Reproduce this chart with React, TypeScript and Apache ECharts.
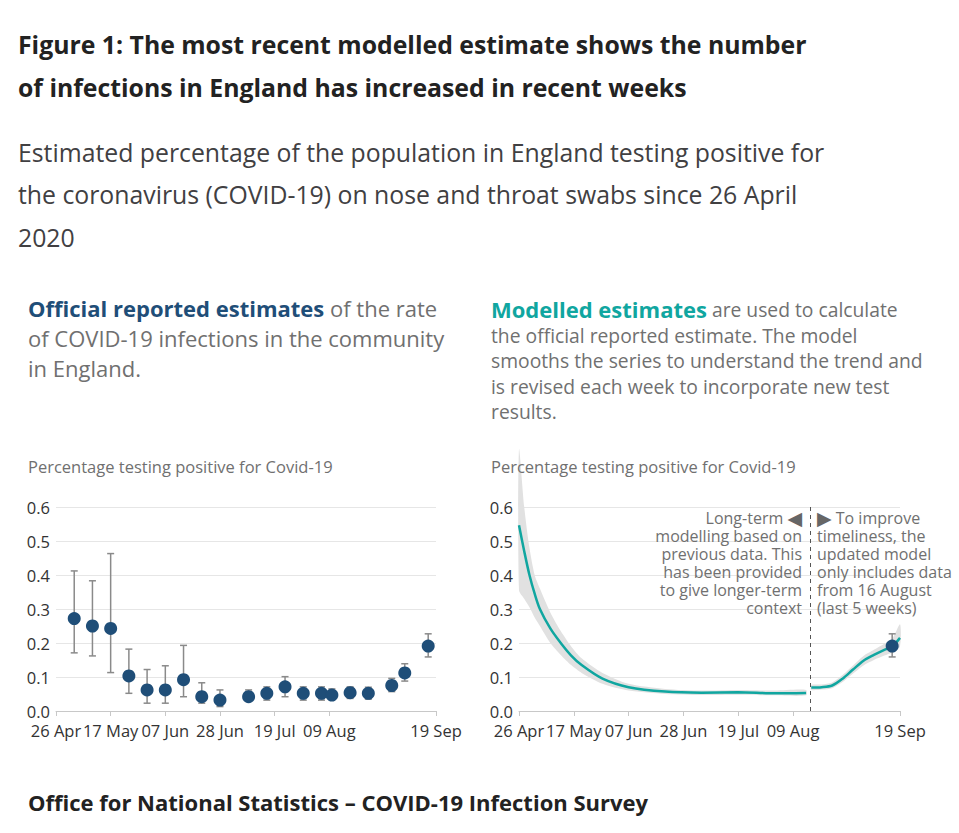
import React, { useEffect, useRef } from "react";
import * as echarts from "echarts";

// ---------- data ----------
const START_DATE = "2020-04-26";

const tickDates = ["2020-04-26", "2020-05-17", "2020-06-07", "2020-06-28", "2020-07-19", "2020-08-09", "2020-09-19"];
const tickLabels = ["26 Apr", "17 May", "07 Jun", "28 Jun", "19 Jul", "09 Aug", "19 Sep"];
const yTicks = [0, 0.1, 0.2, 0.3, 0.4, 0.5, 0.6];

const officialDates = [
  "2020-05-03", "2020-05-10", "2020-05-17", "2020-05-24", "2020-05-31", "2020-06-07", "2020-06-14",
  "2020-06-21", "2020-06-28", "2020-07-09", "2020-07-16", "2020-07-23", "2020-07-30", "2020-08-06",
  "2020-08-10", "2020-08-17", "2020-08-24", "2020-09-02", "2020-09-07", "2020-09-16",
];
const officialValues = [0.272, 0.25, 0.243, 0.103, 0.062, 0.062, 0.092, 0.042, 0.032, 0.042, 0.052, 0.071, 0.052, 0.052, 0.047, 0.054, 0.052, 0.075, 0.112, 0.191];
const officialLower = [0.171, 0.162, 0.113, 0.052, 0.023, 0.023, 0.042, 0.023, 0.013, 0.03, 0.032, 0.042, 0.032, 0.032, 0.035, 0.037, 0.035, 0.057, 0.088, 0.159];
const officialUpper = [0.412, 0.383, 0.463, 0.182, 0.122, 0.133, 0.193, 0.083, 0.062, 0.062, 0.071, 0.101, 0.071, 0.071, 0.065, 0.071, 0.07, 0.096, 0.139, 0.227];

const longTermDates = [
  "2020-04-26", "2020-04-28", "2020-04-30", "2020-05-02", "2020-05-04", "2020-05-08", "2020-05-12",
  "2020-05-16", "2020-05-20", "2020-05-28", "2020-06-07", "2020-06-21", "2020-07-05", "2020-07-19", "2020-08-02", "2020-08-14",
];
const longTermModel = [0.546, 0.47, 0.4, 0.345, 0.3, 0.243, 0.2, 0.163, 0.135, 0.095, 0.07, 0.057, 0.054, 0.055, 0.052, 0.053];
const longTermLower = [0.355, 0.33, 0.305, 0.275, 0.25, 0.2, 0.165, 0.135, 0.112, 0.08, 0.06, 0.05, 0.047, 0.048, 0.046, 0.046];
const longTermUpper = [0.77, 0.6, 0.48, 0.4, 0.36, 0.29, 0.235, 0.19, 0.155, 0.112, 0.08, 0.065, 0.06, 0.062, 0.06, 0.062];

const recentDates = ["2020-08-16", "2020-08-20", "2020-08-24", "2020-08-28", "2020-09-01", "2020-09-05", "2020-09-09", "2020-09-13", "2020-09-16", "2020-09-19"];
const recentModel = [0.069, 0.07, 0.075, 0.095, 0.122, 0.148, 0.165, 0.18, 0.19, 0.215];
const recentLower = [0.062, 0.063, 0.067, 0.085, 0.11, 0.134, 0.15, 0.163, 0.172, 0.19];
const recentUpper = [0.077, 0.078, 0.084, 0.106, 0.134, 0.162, 0.18, 0.198, 0.212, 0.255];

const dividerDate = "2020-08-15";
const dividerOffsetDays = 0.5;

// ---------- helpers ----------
const DAY = 86400000;
const toDay = (s: string) => (Date.parse(s + "T00:00:00Z") - Date.parse(START_DATE + "T00:00:00Z")) / DAY;
const tickDays = tickDates.map(toDay);
const xMax = tickDays[tickDays.length - 1];

const FONT = "'Open Sans', 'Noto Sans', sans-serif";
const DOT = "#1f4e78";
const TEAL = "#10a6a0";
const GREY_TEXT = "#707070";
const BAND = "#e1e1e1";

function pairs(dates: string[], vals: number[]) {
  return dates.map((d, i) => [toDay(d), vals[i]]);
}
function triples(dates: string[], lo: number[], hi: number[]) {
  return dates.map((d, i) => [toDay(d), lo[i], hi[i]]);
}

function errorBarRender(params: any, api: any) {
  const x = api.value(0);
  const p1 = api.coord([x, api.value(2)]);
  const p2 = api.coord([x, api.value(1)]);
  const w = 3.5;
  const st = { stroke: "#8a8a8a", lineWidth: 1.5 };
  return {
    type: "group",
    children: [
      { type: "line", shape: { x1: p1[0], y1: p1[1], x2: p2[0], y2: p2[1] }, style: st },
      { type: "line", shape: { x1: p1[0] - w, y1: p1[1], x2: p1[0] + w, y2: p1[1] }, style: st },
      { type: "line", shape: { x1: p2[0] - w, y1: p2[1], x2: p2[0] + w, y2: p2[1] }, style: st },
    ],
  };
}

function bandRender(rows: number[][]) {
  return (params: any, api: any) => {
    if (params.dataIndex !== 0) return null;
    const upper = rows.map((r) => api.coord([r[0], r[2]]));
    const lower = rows.map((r) => api.coord([r[0], r[1]])).reverse();
    return {
      type: "polygon",
      shape: { points: upper.concat(lower), smooth: 0.25 },
      style: { fill: BAND },
    };
  };
}

function xAxisCfg(gridIndex: number) {
  return {
    type: "value",
    gridIndex,
    min: 0,
    max: xMax,
    splitLine: { show: false },
    axisLine: { show: true, lineStyle: { color: "#c8c8c8", width: 1 } },
    axisTick: { show: true, length: 5, customValues: tickDays, lineStyle: { color: "#c8c8c8" } },
    axisLabel: {
      customValues: tickDays,
      margin: 11,
      fontSize: 16.5,
      fontFamily: FONT,
      color: "#333",
      formatter: (v: number) => {
        const i = tickDays.findIndex((t) => Math.abs(t - v) < 0.01);
        return i >= 0 ? tickLabels[i] : "";
      },
    },
  };
}
function yAxisCfg(gridIndex: number) {
  return {
    type: "value",
    gridIndex,
    min: yTicks[0],
    max: yTicks[yTicks.length - 1],
    interval: 0.1,
    axisLine: { show: false },
    axisTick: { show: false },
    splitLine: { show: true, lineStyle: { color: "#e6e6e6", width: 1 } },
    axisLabel: { margin: 6, fontSize: 16.5, fontFamily: FONT, color: "#333", formatter: (v: number) => v.toFixed(1) },
  };
}

function text(x: number, y: number, t: string, style: any) {
  return {
    type: "text",
    x,
    y,
    z: 10,
    style: { text: t, fontFamily: FONT, textVerticalAlign: "middle", ...style },
  };
}

export default function App() {
  const ref = useRef<HTMLDivElement>(null);
  useEffect(() => {
    if (!ref.current) return;
    const chart = echarts.init(ref.current, null, { renderer: "svg" });
    const officialTriples = triples(officialDates, officialLower, officialUpper);
    const longBand = triples(longTermDates, longTermLower, longTermUpper);
    const recentBand = triples(recentDates, recentLower, recentUpper);
    const last = officialDates.length - 1;
    const titleStyle = { fontSize: 24.8, fontWeight: "bold", fill: "#222" };
    const subStyle = { fontSize: 24.8, fill: "#414042" };
    const leftDesc = { fontSize: 22, fill: GREY_TEXT };
    const rightDesc = { fontSize: 19.3, fill: GREY_TEXT };
    const axisTitle = { fontSize: 16.5, fill: GREY_TEXT };
    const annot = {
      fontSize: 16,
      fill: GREY_TEXT,
      lineHeight: 18,
      textVerticalAlign: "top",
      rich: { t: { fontSize: 19, fill: "#666", lineHeight: 18, fontFamily: "'DejaVu Sans', sans-serif" } },
    };

    const option: any = {
      animation: false,
      backgroundColor: "#fff",
      grid: [
        { left: 56, right: 523, top: 507, bottom: 122 },
        { left: 519, right: 59, top: 507, bottom: 122 },
      ],
      xAxis: [xAxisCfg(0), xAxisCfg(1)],
      yAxis: [yAxisCfg(0), yAxisCfg(1)],
      graphic: [
        text(18, 44, "Figure 1: The most recent modelled estimate shows the number", titleStyle),
        text(18, 87, "of infections in England has increased in recent weeks", titleStyle),
        text(18, 152, "Estimated percentage of the population in England testing positive for", subStyle),
        text(18, 194, "the coronavirus (COVID-19) on nose and throat swabs since 26 April", subStyle),
        text(18, 237, "2020", subStyle),
        text(28, 308, "{b|Official reported estimates} of the rate", {
          ...leftDesc,
          rich: { b: { fontSize: 22, fontWeight: "bold", fill: "#1f4e78", fontFamily: FONT } },
        }),
        text(28, 338, "of COVID-19 infections in the community", leftDesc),
        text(28, 368, "in England.", leftDesc),
        text(491, 309, "{b|Modelled estimates} are used to calculate", {
          ...rightDesc,
          rich: { b: { fontSize: 22, fontWeight: "bold", fill: TEAL, fontFamily: FONT } },
        }),
        text(491, 335, "the official reported estimate. The model", rightDesc),
        text(491, 360, "smooths the series to understand the trend and", rightDesc),
        text(491, 386, "is revised each week to incorporate new test", rightDesc),
        text(491, 411, "results.", rightDesc),
        text(28, 466, "Percentage testing positive for Covid-19", axisTitle),
        text(491, 466, "Percentage testing positive for Covid-19", axisTitle),
        text(802, 509, "Long-term {t|◀}\nmodelling based on\nprevious data. This\nhas been provided\nto give longer-term\ncontext", {
          ...annot,
          textAlign: "right",
        }),
        text(817, 509, "{t|▶} To improve\ntimeliness, the\nupdated model\nonly includes data\nfrom 16 August\n(last 5 weeks)", {
          ...annot,
          textAlign: "left",
        }),
        text(28, 802, "Office for National Statistics – COVID-19 Infection Survey", { fontSize: 22, fontWeight: "bold", fill: "#222" }),
      ],
      series: [
        // left chart
        {
          type: "custom",
          xAxisIndex: 0,
          yAxisIndex: 0,
          renderItem: errorBarRender,
          encode: { x: 0, y: [1, 2] },
          data: officialTriples,
          z: 2,
        },
        {
          type: "scatter",
          xAxisIndex: 0,
          yAxisIndex: 0,
          symbolSize: 13,
          itemStyle: { color: DOT, opacity: 1 },
          data: pairs(officialDates, officialValues),
          z: 3,
        },
        // right chart bands
        {
          type: "custom",
          xAxisIndex: 1,
          yAxisIndex: 1,
          renderItem: bandRender(longBand),
          encode: { x: 0, y: [1, 2] },
          data: longBand,
          z: 1,
        },
        {
          type: "custom",
          xAxisIndex: 1,
          yAxisIndex: 1,
          renderItem: bandRender(recentBand),
          encode: { x: 0, y: [1, 2] },
          data: recentBand,
          z: 1,
        },
        // model lines
        {
          type: "line",
          xAxisIndex: 1,
          yAxisIndex: 1,
          symbol: "none",
          smooth: 0.3,
          lineStyle: { color: TEAL, width: 2.5 },
          data: pairs(longTermDates, longTermModel),
          z: 3,
          markLine: {
            silent: true,
            symbol: "none",
            label: { show: false },
            lineStyle: { color: "#555", type: [4, 4], width: 1 },
            data: [
              [
                { coord: [toDay(dividerDate) + dividerOffsetDays, 0.6] },
                { coord: [toDay(dividerDate) + dividerOffsetDays, 0] },
              ],
            ],
          },
        },
        {
          type: "line",
          xAxisIndex: 1,
          yAxisIndex: 1,
          symbol: "none",
          smooth: 0.3,
          lineStyle: { color: TEAL, width: 2.5 },
          data: pairs(recentDates, recentModel),
          z: 3,
        },
        {
          type: "custom",
          xAxisIndex: 1,
          yAxisIndex: 1,
          renderItem: errorBarRender,
          encode: { x: 0, y: [1, 2] },
          data: [officialTriples[last]],
          z: 4,
        },
        {
          type: "scatter",
          xAxisIndex: 1,
          yAxisIndex: 1,
          symbolSize: 13,
          itemStyle: { color: DOT, opacity: 1 },
          data: [[toDay(officialDates[last]), officialValues[last]]],
          z: 5,
        },
      ],
    };
    chart.setOption(option);
    return () => chart.dispose();
  }, []);
  return <div ref={ref} style={{ position: "fixed", left: 0, top: 0, width: 959, height: 833, background: "#fff" }} />;
}
